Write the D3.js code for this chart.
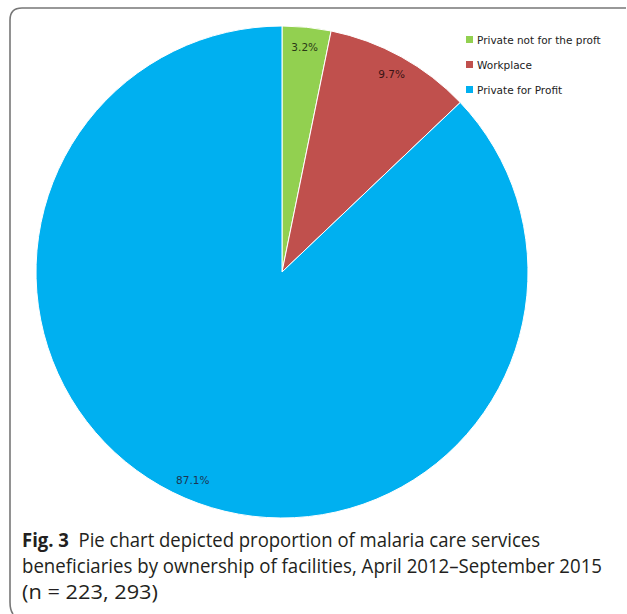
<!DOCTYPE html>
<html>
<head>
<meta charset="utf-8">
<script src="https://cdn.jsdelivr.net/npm/d3@7/dist/d3.min.js"></script>
<style>
    body { margin: 0; background: #fff; }
    .lbl { font: 10.5px "DejaVu Sans", sans-serif; }
    .legend text { font: 10.5px "DejaVu Sans", sans-serif; fill: #222; }
    .caption { font-family: "Open Sans", sans-serif; font-size: 20px; fill: #231f20; }
</style>
</head>
<body>
<div id="chart"></div>
<script>
// ownership categories, share in percent
const categories = ['Private not for the proft', 'Workplace', 'Private for Profit'];
const values = [3.2, 9.7, 87.1];
const colors = ['#92d050', '#c0504d', '#00b0f0'];
const labelColors = ['#2b3a16', '#3a1414', '#1d3552'];
const captionLines = [
    ['Fig. 3', '  Pie chart depicted proportion of malaria care services'],
    ['', 'beneficiaries by ownership of facilities, April 2012\u2013September 2015'],
    ['', '(n = 223, 293)']
];
const captionWidths = [518, 580, 136];

const width = 627, height = 614;
const cx = 282, cy = 272, r = 246;

const svg = d3.select('#chart').append('svg')
    .attr('width', width)
    .attr('height', height);

// frame: top and left edges with rounded corners
svg.append('path')
    .attr('d', 'M 626 8 L 22 8 Q 10 8 10 20 L 10 602 Q 10 610 13 614')
    .attr('fill', 'none')
    .attr('stroke', '#777')
    .attr('stroke-width', 1.6);

const pie = d3.pie().sort(null).value(d => d);
const arcs = pie(values);
const arc = d3.arc().innerRadius(0).outerRadius(r);
const labelArc = d3.arc().innerRadius(r * 0.92).outerRadius(r * 0.92);

const g = svg.append('g').attr('transform', `translate(${cx},${cy})`);

g.selectAll('path')
    .data(arcs)
    .enter()
    .append('path')
    .attr('d', arc)
    .attr('fill', (d, i) => colors[i])
    .attr('stroke', '#fff')
    .attr('stroke-width', 1);

g.selectAll('.lbl')
    .data(arcs)
    .enter()
    .append('text')
    .attr('class', 'lbl')
    .attr('transform', d => `translate(${labelArc.centroid(d)})`)
    .attr('text-anchor', 'middle')
    .attr('dy', '0.35em')
    .attr('fill', (d, i) => labelColors[i])
    .text(d => d.data.toFixed(1) + '%');

// legend
const legend = svg.append('g')
    .attr('class', 'legend')
    .attr('transform', 'translate(466,40)');

const item = legend.selectAll('g')
    .data(categories)
    .enter()
    .append('g')
    .attr('transform', (d, i) => `translate(0,${i * 25})`);

item.append('rect')
    .attr('x', 0).attr('y', -4)
    .attr('width', 7).attr('height', 7)
    .attr('fill', (d, i) => colors[i]);

item.append('text')
    .attr('x', 11)
    .attr('dy', '0.35em')
    .text(d => d);

// caption
captionLines.forEach((line, i) => {
    const t = svg.append('text')
        .attr('class', 'caption')
        .attr('x', 22)
        .attr('y', 547 + i * 26)
        .attr('xml:space', 'preserve')
        .attr('textLength', captionWidths[i])
        .attr('lengthAdjust', 'spacingAndGlyphs');
    if (line[0]) t.append('tspan').attr('font-weight', 'bold').text(line[0]);
    t.append('tspan').text(line[1]);
});
</script>
</body>
</html>
